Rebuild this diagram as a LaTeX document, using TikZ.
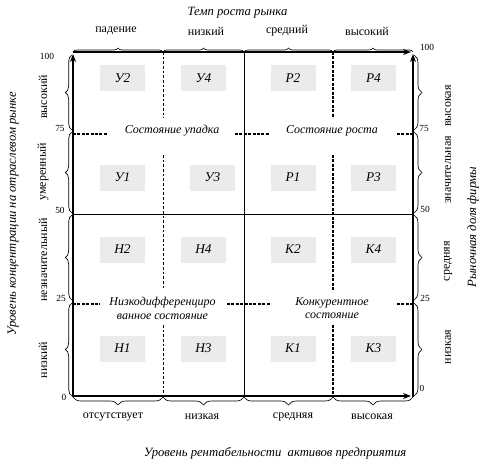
\documentclass[tikz,border=0pt]{standalone}
\usepackage{fontspec}
\setmainfont{Liberation Serif}
\usetikzlibrary{arrows.meta,decorations.pathreplacing}
\definecolor{boxgray}{RGB}{235,235,236}
\begin{document}
\begin{tikzpicture}[x=0.75pt,y=-0.75pt,
  axisline/.style={line width=1.5pt,-{Stealth[length=6pt,width=4.5pt]}},
  midline/.style={line width=0.6pt},
  thindash/.style={line width=0.6pt,dash pattern=on 2pt off 1.5pt},
  thickdash/.style={line width=0.95pt,dash pattern=on 2.3pt off 1pt},
  brc/.style={decorate,line width=0.5pt},
  cell/.style={fill=boxgray,minimum width=33.75pt,minimum height=19.5pt,inner sep=0pt,font=\fontsize{10}{12}\selectfont\itshape},
  cat/.style={inner sep=0pt,font=\fontsize{9}{10}\selectfont},
  ttl/.style={inner sep=0pt,font=\fontsize{9.5}{11}\selectfont\itshape},
  sect/.style={inner sep=0pt,align=center,font=\fontsize{9}{9.9}\selectfont\itshape},
  num/.style={inner sep=0pt,font=\fontsize{7}{8}\selectfont}
]
\useasboundingbox (0,0) rectangle (497,472);

% frame coordinates
\coordinate (bl) at (73,397);
\coordinate (tl) at (73,52);
\coordinate (tr) at (413,52);
\coordinate (br) at (413,397);
\coordinate (ltip) at (73,54);
\coordinate (rtip) at (413,54);
\coordinate (ttip) at (411,52);
\coordinate (btip) at (411,396);
\coordinate (bls) at (73,396);

% mid lines
\coordinate (mt) at (244,52);
\coordinate (mb) at (244,397);
\coordinate (ml) at (73,214);
\coordinate (mr) at (413,214);
\draw[midline] (mt) -- (mb);
\draw[midline] (ml) -- (mr);

% dashed verticals
\foreach \x/\s in {163/thindash,333/thickdash}{
  \draw[\s] (\x,52) -- (\x,118);
  \draw[\s] (\x,155) -- (\x,290);
  \draw[\s] (\x,325) -- (\x,397);
}
% dashed horizontals
\foreach \y in {134,304}{
  \draw[thickdash] (397,\y) -- (413,\y);
}
\draw[thickdash] (73,134) -- (107,134);
\draw[thickdash] (235,134) -- (270,134);
\draw[thickdash] (73,304) -- (100,304);
\draw[thickdash] (227,304) -- (270,304);

% axes
\draw[axisline] (bl) -- (ltip);
\draw[axisline] (br) -- (rtip);
\draw[axisline] (tl) -- (ttip);
\draw[axisline] (bls) -- (btip);

% braces top
\foreach \a/\b in {73/163,163/244,244/333,333/413}{
  \draw[brc,decoration={brace,amplitude=3pt}] (\a,52) -- (\b,52);
  \draw[brc,decoration={brace,amplitude=6pt}] (\b,397) -- (\a,397);
}
% braces left and right
\foreach \a/\b in {55/130,132/213,215/300,303/396}{
  \draw[brc,decoration={brace,amplitude=5pt}] (72,\b) -- (72,\a);
  \draw[brc,decoration={brace,amplitude=6pt}] (414,\a) -- (414,\b);
}

% titles
\node[ttl] (ttop) at (237.5,13) {Темп роста рынка};
\node[ttl] (tbot) at (275,453) {Уровень рентабельности\ \ активов предприятия};
\node[ttl,rotate=90] (tleft) at (13,214) {Уровень концентрации на отраслевом рынке};
\node[ttl,rotate=90] (tright) at (473,227) {Рыночная доля фирмы};

% top categories
\node[cat] (c1) at (116,31) {падение};
\node[cat] (c2) at (206,31) {низкий};
\node[cat] (c3) at (287,31) {средний};
\node[cat] (c4) at (367,31) {высокий};
% bottom categories
\node[cat] (b1) at (113,417) {отсутствует};
\node[cat] (b2) at (202,417) {низкая};
\node[cat] (b3) at (293,417) {средняя};
\node[cat] (b4) at (372,417) {высокая};
% left categories
\node[cat,rotate=90] (l1) at (43,97) {высокий};
\node[cat,rotate=90] (l2) at (43,172) {умеренный};
\node[cat,rotate=90] (l3) at (43,260) {незначительный};
\node[cat,rotate=90] (l4) at (43,360) {низкий};
% right categories
\node[cat,rotate=90] (r1) at (448,106) {высокая};
\node[cat,rotate=90] (r2) at (448,170) {значительная};
\node[cat,rotate=90] (r3) at (448,261) {средняя};
\node[cat,rotate=90] (r4) at (448,347) {низкая};

% numbers
\node[num] (n100) at (47,56) {100};
\node[num] (n75) at (60,128) {75};
\node[num] (n50) at (60,210) {50};
\node[num] (n25) at (61,298) {25};
\node[num] (n0) at (64,397) {0};
\node[num] (m100) at (427,47) {100};
\node[num] (m75) at (424,128) {75};
\node[num] (m50) at (425,209) {50};
\node[num] (m25) at (425,298) {25};
\node[num] (m0) at (422,388) {0};

% section labels
\node[sect] (s1) at (172,131) {Состояние упадка};
\node[sect] (s2) at (332,131) {Состояние роста};
\node[sect] (s3) at (162.5,308.5) {Низкодифференциро\\ванное состояние};
\node[sect] (s4) at (332,308.5) {Конкурентное\\состояние};

% cells
\node[cell] (U2) at (122.5,78) {У2};
\node[cell] (U4) at (203.5,78) {У4};
\node[cell] (P2) at (293,78) {Р2};
\node[cell] (P4) at (373.5,78) {Р4};
\node[cell] (U1) at (122.5,177.5) {У1};
\node[cell] (U3) at (212.5,177.5) {У3};
\node[cell] (P1) at (293,177.5) {Р1};
\node[cell] (P3) at (373.5,177.5) {Р3};
\node[cell] (H2) at (122.5,249.5) {Н2};
\node[cell] (H4) at (203.5,249.5) {Н4};
\node[cell] (K2) at (293,249.5) {К2};
\node[cell] (K4) at (373.5,249.5) {К4};
\node[cell] (H1) at (122.5,348.5) {Н1};
\node[cell] (H3) at (203.5,348.5) {Н3};
\node[cell] (K1) at (293,348.5) {К1};
\node[cell] (K3) at (373.5,348.5) {К3};
\end{tikzpicture}
\end{document}
